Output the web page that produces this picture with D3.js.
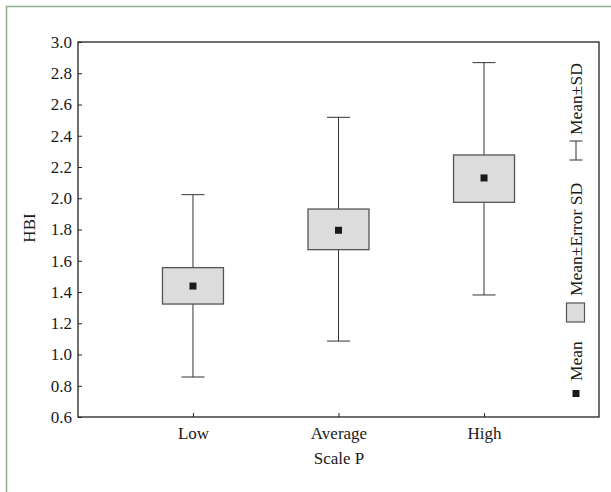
<!DOCTYPE html>
<html><head><meta charset="utf-8">
<script src="https://cdn.jsdelivr.net/npm/d3@7"></script>
<style>body{margin:0;background:#fff}svg{display:block}</style>
</head><body>
<svg id="c" width="611" height="492"></svg>
<script>
const categories = ["Low", "Average", "High"];
const means = [1.438, 1.795, 2.130];
const seLow = [1.323, 1.671, 1.974];
const seHigh = [1.556, 1.931, 2.277];
const sdLow = [0.856, 1.086, 1.381];
const sdHigh = [2.023, 2.518, 2.868];
const yTicks = [0.6, 0.8, 1.0, 1.2, 1.4, 1.6, 1.8, 2.0, 2.2, 2.4, 2.6, 2.8, 3.0];

const svg = d3.select("#c");
const font = "'Liberation Serif', 'Times New Roman', serif";
const fs = 17;
const L = 78, R = 599, T = 42, B = 417;

// frame
svg.append("path").attr("d", "M6.5,492 V6.5 H611").attr("fill", "none")
  .attr("stroke", "#8fb08f").attr("stroke-width", 1.5);

const x = d3.scalePoint().domain(categories).range([L, R]).padding(0.79);
const y = d3.scaleLinear().domain([0.6, 3.0]).range([B, T]);

// plot box
svg.append("rect").attr("x", L).attr("y", T).attr("width", R - L).attr("height", B - T)
  .attr("fill", "none").attr("stroke", "#222").attr("stroke-width", 1.3);

// y axis
const ya = svg.append("g").attr("transform", `translate(${L},0)`)
  .call(d3.axisRight(y).tickValues(yTicks).tickFormat(d3.format(".1f")).tickSize(4));
ya.select(".domain").remove();
ya.selectAll("line").attr("stroke", "#222");
ya.selectAll("text").attr("text-anchor", "end").attr("x", -6).attr("font-family", font).attr("font-size", fs).attr("fill", "#1a1a1a");

// x axis
const xa = svg.append("g").attr("transform", `translate(0,${B})`)
  .call(d3.axisTop(x).tickSize(4));
xa.select(".domain").remove();
xa.selectAll("line").attr("stroke", "#222");
xa.selectAll("text").attr("y", 22).attr("dy", 0).attr("font-family", font).attr("font-size", fs).attr("fill", "#1a1a1a");

// axis titles
svg.append("text").attr("x", 339).attr("y", 464).attr("text-anchor", "middle")
  .attr("font-family", font).attr("font-size", fs).attr("fill", "#1a1a1a").text("Scale P");
svg.append("text").attr("transform", "translate(35,228) rotate(-90)").attr("text-anchor", "middle")
  .attr("font-family", font).attr("font-size", fs).attr("fill", "#1a1a1a").text("HBI");

const bw = 61, cw = 23, ms = 7;
const g = svg.append("g");
categories.forEach((c, i) => {
  const cx = x(c);
  g.append("line").attr("x1", cx).attr("x2", cx).attr("y1", y(sdHigh[i])).attr("y2", y(sdLow[i]))
    .attr("stroke", "#333").attr("stroke-width", 1);
  [sdHigh[i], sdLow[i]].forEach(v => g.append("line").attr("x1", cx - cw / 2).attr("x2", cx + cw / 2)
    .attr("y1", y(v)).attr("y2", y(v)).attr("stroke", "#333").attr("stroke-width", 1));
  g.append("rect").attr("x", cx - bw / 2).attr("y", y(seHigh[i])).attr("width", bw)
    .attr("height", y(seLow[i]) - y(seHigh[i])).attr("fill", "#dcdcdc").attr("stroke", "#555").attr("stroke-width", 1.3);
  g.append("rect").attr("x", cx - ms / 2).attr("y", y(means[i]) - ms / 2).attr("width", ms).attr("height", ms)
    .attr("fill", "#1a1a1a");
});

// legend (rotated)
const lx = 576, lfs = 17.5;
svg.append("rect").attr("x", lx - 3.5).attr("y", 390).attr("width", 7).attr("height", 7).attr("fill", "#1a1a1a");
svg.append("text").attr("transform", `translate(${lx + 6},381) rotate(-90)`).attr("font-family", font)
  .attr("font-size", lfs).attr("fill", "#1a1a1a").text("Mean");
svg.append("rect").attr("x", lx - 9.5).attr("y", 303).attr("width", 18).attr("height", 19)
  .attr("fill", "#dcdcdc").attr("stroke", "#555").attr("stroke-width", 1.2);
svg.append("text").attr("transform", `translate(${lx + 6},296) rotate(-90)`).attr("font-family", font)
  .attr("font-size", lfs).attr("fill", "#1a1a1a").text("Mean±Error SD");
svg.append("path").attr("d", `M${lx},141 V160 M${lx - 6.5},141 H${lx + 6.5} M${lx - 6.5},160 H${lx + 6.5}`)
  .attr("stroke", "#333").attr("fill", "none");
svg.append("text").attr("transform", `translate(${lx + 6},135) rotate(-90)`).attr("font-family", font)
  .attr("font-size", lfs).attr("fill", "#1a1a1a").text("Mean±SD");
</script>
</body></html>
